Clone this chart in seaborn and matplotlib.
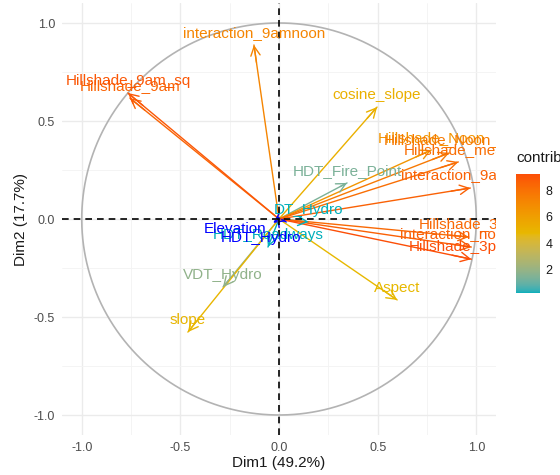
import matplotlib
matplotlib.use("Agg")
import matplotlib.pyplot as plt
from matplotlib.colors import ListedColormap, Normalize, to_rgb
from matplotlib.cm import ScalarMappable
from matplotlib.ticker import FormatStrFormatter
from matplotlib.transforms import offset_copy
import numpy as np
import pandas as pd
import seaborn as sns

# Active variables: coordinates on Dim1 / Dim2 and contribution (%)
variables = ["Aspect", "slope", "VDT_Hydro", "HDT_Fire_Point", "DT_Hydro",
             "HDT_Roadways", "Hillshade_9am", "Hillshade_9am_sq",
             "Hillshade_Noon", "Hillshade_Noon_sq", "Hillshade_mean",
             "Hillshade_3pm", "Hillshade_3pm_sq", "interaction_9amnoon",
             "interaction_9am3pm", "interaction_noon3pm", "cosine_slope"]
dim1 = [0.599, -0.462, -0.284, 0.345, 0.150, -0.056, -0.756, -0.766,
        0.772, 0.863, 0.909, 0.962, 0.975, -0.127, 0.970, 0.975, 0.497]
dim2 = [-0.413, -0.577, -0.347, 0.184, -0.015, -0.143, 0.617, 0.643,
        0.352, 0.337, 0.291, -0.092, -0.205, 0.888, 0.158, -0.143, 0.571]
contrib = [4.74, 4.88, 1.80, 1.37, 0.21, 0.21, 8.51, 8.94, 6.43, 7.67,
           8.14, 8.29, 9.24, 7.18, 8.63, 8.67, 5.12]

# Supplementary variables
sup_variables = ["Elevation", "HDT_Hydro"]
sup_dim1 = [-0.010, -0.030]
sup_dim2 = [0.015, -0.020]

axis_ticks = [-1.0, -0.5, 0.0, 0.5, 1.0]
xlabel = "Dim1 (49.2%)"
ylabel = "Dim2 (17.7%)"
legend_title = "contrib"
gradient = ["#00AFBB", "#E7B800", "#FC4E07"]


# --- gradient interpolated in CIE Lab -------------------------------------
def _rgb_to_lab(rgb):
    c = np.asarray(rgb, float)
    c = np.where(c > 0.04045, ((c + 0.055) / 1.055) ** 2.4, c / 12.92)
    m = np.array([[0.4124, 0.3576, 0.1805],
                  [0.2126, 0.7152, 0.0722],
                  [0.0193, 0.1192, 0.9505]])
    xyz = m @ c / np.array([0.95047, 1.0, 1.08883])
    f = np.where(xyz > 0.008856, np.cbrt(xyz), 7.787 * xyz + 16 / 116)
    return np.array([116 * f[1] - 16, 500 * (f[0] - f[1]), 200 * (f[1] - f[2])])


def _lab_to_rgb(lab):
    L, a, b = lab
    fy = (L + 16) / 116
    fx = fy + a / 500
    fz = fy - b / 200
    f = np.array([fx, fy, fz])
    xyz = np.where(f ** 3 > 0.008856, f ** 3, (f - 16 / 116) / 7.787)
    xyz = xyz * np.array([0.95047, 1.0, 1.08883])
    m = np.array([[3.2406, -1.5372, -0.4986],
                  [-0.9689, 1.8758, 0.0415],
                  [0.0557, -0.2040, 1.0570]])
    c = m @ xyz
    c = np.where(c > 0.0031308, 1.055 * np.abs(c) ** (1 / 2.4) - 0.055, 12.92 * c)
    return np.clip(c, 0, 1)


labs = [_rgb_to_lab(to_rgb(h)) for h in gradient]
stops = np.linspace(0, 1, len(labs))
colors = []
for t in np.linspace(0, 1, 256):
    i = min(int(t * (len(labs) - 1)), len(labs) - 2)
    w = (t - stops[i]) / (stops[i + 1] - stops[i])
    colors.append(_lab_to_rgb((1 - w) * labs[i] + w * labs[i + 1]))
cmap = ListedColormap(colors, name="contrib")
norm = Normalize(vmin=min(contrib), vmax=max(contrib))

sns.set_theme(style="whitegrid")
plt.rcParams["font.family"] = ["Liberation Sans", "DejaVu Sans"]

fig = plt.figure(figsize=(5.6, 4.75), dpi=100)
fig.patch.set_facecolor("white")
ax = fig.add_axes([62 / 560, 1 - 434.6 / 475, 434 / 560, 431.2 / 475])
ax.set_facecolor("white")

# Grid
ax.set_xticks(axis_ticks)
ax.set_yticks(axis_ticks)
ax.set_xticks([-0.75, -0.25, 0.25, 0.75], minor=True)
ax.set_yticks([-0.75, -0.25, 0.25, 0.75], minor=True)
ax.grid(which="major", color="#EBEBEB", lw=1.0)
ax.grid(which="minor", color="#F3F3F3", lw=0.6)
ax.set_axisbelow(True)
ax.tick_params(which="minor", length=0)
ax.tick_params(which="major", length=3, width=1, color="#333333",
               labelcolor="#4D4D4D", labelsize=9, pad=2)
ax.xaxis.set_major_formatter(FormatStrFormatter("%.1f"))
ax.yaxis.set_major_formatter(FormatStrFormatter("%.1f"))
for s in ax.spines.values():
    s.set_visible(False)

# Correlation circle
theta = np.linspace(0, 2 * np.pi, 400)
ax.plot(np.cos(theta), np.sin(theta), color="#B3B3B3", lw=1.2, zorder=1)

# Arrow shafts
rows = []
for name, x, y, c in zip(variables, dim1, dim2, contrib):
    rows.append({"var": name, "x": 0.0, "y": 0.0, "contrib": c})
    rows.append({"var": name, "x": x, "y": y, "contrib": c})
seg = pd.DataFrame(rows)
sns.lineplot(data=seg, x="x", y="y", units="var", estimator=None, sort=False,
             hue="contrib", palette=cmap, hue_norm=norm, legend=False,
             lw=1.0, ax=ax, zorder=2)

head = dict(arrowstyle="->,head_length=0.55,head_width=0.28", lw=1.0,
            shrinkA=0, shrinkB=0, mutation_scale=12)
for x, y, c in zip(dim1, dim2, contrib):
    ax.annotate("", xy=(x, y), xytext=(0.9 * x, 0.9 * y),
                arrowprops=dict(color=cmap(norm(c)), **head), zorder=3)

for x, y in zip(sup_dim1, sup_dim2):
    ax.annotate("", xy=(x, y), xytext=(0, 0),
                arrowprops=dict(color="blue", ls="--", **head), zorder=3)

# Reference lines
ax.axhline(0, color="black", lw=1.2, ls=(0, (4, 3)), zorder=4)
ax.axvline(0, color="black", lw=1.2, ls=(0, (4, 3)), zorder=4)

# Variable labels, clipped to the panel
above = offset_copy(ax.transData, fig=fig, x=0, y=8.5, units="points")
for name, x, y, c in zip(variables, dim1, dim2, contrib):
    ax.text(x, y, name, transform=above, ha="center", va="center",
            fontsize=11, color=cmap(norm(c)), zorder=5, clip_on=True)

sup_offsets = [(-30, -9), (-9, -11)]
for name, x, y, (dx, dy) in zip(sup_variables, sup_dim1, sup_dim2, sup_offsets):
    tr = offset_copy(ax.transData, fig=fig, x=dx, y=dy, units="points")
    ax.text(x, y, name, transform=tr, ha="center", va="center",
            fontsize=11, color="blue", zorder=5, clip_on=True)

ax.set_xlim(-1.1, 1.1)
ax.set_ylim(-1.1, 1.1)
ax.set_xlabel(xlabel, fontsize=11, color="#1A1A1A", labelpad=2)
ax.set_ylabel(ylabel, fontsize=11, color="#1A1A1A", labelpad=4)

# Colour bar legend
cax = fig.add_axes([516 / 560, 1 - 293 / 475, 24 / 560, 119 / 475])
cb = fig.colorbar(ScalarMappable(norm=norm, cmap=cmap), cax=cax)
cb.outline.set_visible(False)
cb.set_ticks([2, 4, 6, 8])
cax.tick_params(which="both", color="white", direction="in", length=5, width=0.8,
                left=True, right=True, labelleft=False, labelright=True,
                labelsize=9, labelcolor="#1A1A1A", pad=4)
cax.minorticks_off()
fig.text(516 / 560, 1 - 158 / 475, legend_title, fontsize=11, color="#1A1A1A",
         ha="left", va="center")

fig.savefig("out.png", dpi=100, facecolor="white")
